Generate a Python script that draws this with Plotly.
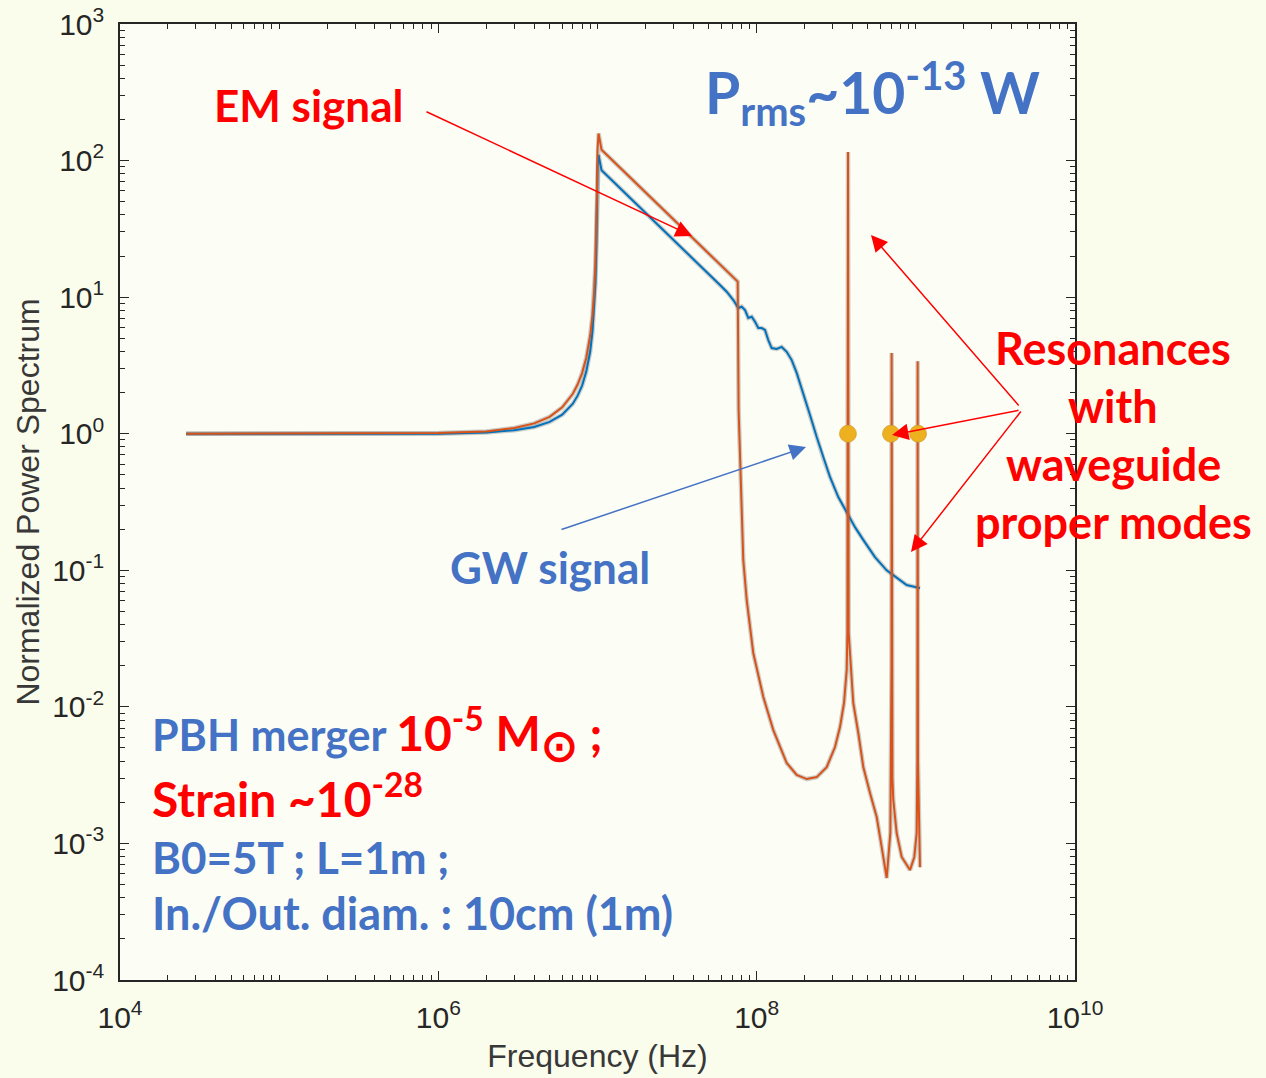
import plotly.graph_objects as go

# ---------------------------------------------------------------
# Normalized power spectra (frequency in Hz, power normalized to 1)
# ---------------------------------------------------------------
em_freq = [2.6e4, 1e5, 1e6, 2e6, 3e6, 4e6, 5e6, 6e6, 7e6, 7.5e6, 8e6, 8.5e6,
           9e6, 9.3e6, 9.5e6, 9.7e6, 9.85e6, 9.95e6, 1.0e7, 1.015e7, 1.06e7,
           7.60e7, 7.70e7, 7.93e7, 8.05e7, 8.24e7, 8.66e7, 9.52e7, 1.101e8,
           1.272e8, 1.544e8, 1.784e8, 2.062e8, 2.384e8, 2.754e8, 3.105e8,
           3.338e8, 3.538e8, 3.679e8, 3.715e8, 3.750e8, 3.784e8, 3.858e8,
           4.046e8, 4.350e8, 4.677e8, 5.152e8, 5.677e8, 6.102e8, 6.561e8,
           6.918e8, 7.031e8, 7.047e8, 7.063e8, 7.129e8, 7.217e8, 7.58e8,
           8.15e8, 9.19e8, 9.78e8, 1.0123e9, 1.022e9, 1.027e9, 1.0316e9,
           1.062e9]
em_power = [1.0, 1.0, 1.01, 1.04, 1.1, 1.19, 1.33, 1.56, 1.96, 2.29, 2.78, 3.6,
            5.26, 7.4, 10.3, 16.9, 33.8, 70.0, 120.0, 158.0, 120.0,
            13.0, 1.5, 0.407, 0.233, 0.119, 0.0605, 0.0248, 0.0118,
            0.00676, 0.00388, 0.00317, 0.00296, 0.00306, 0.00362, 0.00508,
            0.00711, 0.01067, 0.0186, 0.035, 115.6, 0.035, 0.0248,
            0.01067, 0.00644, 0.00363, 0.00234, 0.00156, 0.000941, 0.000558,
            0.0012, 0.02, 3.9, 0.02, 0.003, 0.00208, 0.00119,
            0.000796, 0.000638, 0.000796, 0.00119, 0.004, 3.4, 0.004,
            0.00067]

gw_freq = [2.6e4, 1e5, 1e6, 2e6, 3e6, 4e6, 5e6, 6e6, 7e6, 7.5e6, 8e6, 8.5e6,
           9e6, 9.3e6, 9.5e6, 9.7e6, 9.85e6, 9.95e6, 1.0e7, 1.015e7, 1.06e7,
           5.885e7, 6.48e7, 7.135e7, 7.665e7, 8.05e7, 8.45e7, 8.86e7, 9.31e7,
           9.76e7, 1.024e8, 1.075e8, 1.128e8, 1.183e8, 1.243e8, 1.336e8,
           1.436e8, 1.544e8, 1.660e8, 1.784e8, 1.963e8, 2.163e8, 2.384e8,
           2.621e8, 2.888e8, 3.257e8, 3.677e8, 4.147e8, 4.675e8, 5.538e8,
           6.559e8, 7.58e8, 8.76e8, 1.062e9]
gw_power = [1.0, 1.0, 1.0, 1.02, 1.06, 1.12, 1.22, 1.38, 1.66, 1.9, 2.25, 2.85,
            4.0, 5.6, 7.8, 12.5, 25.0, 55.0, 90.0, 110.0, 85.0,
            12.27, 10.96, 9.53, 8.33, 8.51, 8.05, 7.04, 7.19,
            6.61, 5.94, 5.94, 5.75, 4.85, 4.24, 4.17,
            4.32, 3.98, 3.46, 2.79, 1.99, 1.37, 0.946,
            0.664, 0.482, 0.344, 0.263, 0.207, 0.167, 0.125,
            0.100, 0.0878, 0.078, 0.074]

# waveguide proper-mode frequencies, marked at unit power
mode_freq = [3.745e8, 6.98e8, 1.033e9]
mode_power = [1.0, 1.0, 1.0]

x_major = [1e4, 1e6, 1e8, 1e10]
x_major_text = ["10<sup>4</sup>", "10<sup>6</sup>", "10<sup>8</sup>", "10<sup>10</sup>"]
y_major = [1e-4, 1e-3, 1e-2, 1e-1, 1e0, 1e1, 1e2, 1e3]
y_major_text = ["10<sup>-4</sup>", "10<sup>-3</sup>", "10<sup>-2</sup>", "10<sup>-1</sup>",
                "10<sup>0</sup>", "10<sup>1</sup>", "10<sup>2</sup>", "10<sup>3</sup>"]

x_minor = [k * 10 ** n for n in range(4, 10) for k in range(1, 10)
           if not (k == 1 and n % 2 == 0)]
y_minor = [k * 10.0 ** n for n in range(-4, 3) for k in range(2, 10)]

ORANGE = "#D95319"
BLUE = "#0072BD"
YELLOW = "#EDB120"
TXT_RED = "#FF0000"
TXT_BLUE = "#4472C4"
AX = "#262626"
HALO = "rgba(110,110,110,0.33)"

fig = go.Figure()

# soft grey halo under both curves
for fx, fy in ((gw_freq, gw_power), (em_freq, em_power)):
    fig.add_trace(go.Scatter(x=fx, y=fy, mode="lines",
                             line=dict(color=HALO, width=4.5),
                             hoverinfo="skip", showlegend=False))

fig.add_trace(go.Scatter(x=gw_freq, y=gw_power, mode="lines", name="GW signal",
                         line=dict(color=BLUE, width=2), showlegend=False))
fig.add_trace(go.Scatter(x=em_freq, y=em_power, mode="lines", name="EM signal",
                         line=dict(color=ORANGE, width=2), showlegend=False))
fig.add_trace(go.Scatter(x=mode_freq, y=mode_power, mode="markers",
                         marker=dict(color=YELLOW, size=17,
                                     line=dict(color="rgba(200,150,40,0.6)", width=1)),
                         showlegend=False))

L, R, T, B = 120, 1075, 24, 980
W, H = 1266, 1078


def px(xp):
    return (xp - L) / (R - L)


def py(yp):
    return (B - yp) / (B - T)


TXT_FONT = "Lato"
annotations = []


def label(text, x, y, size, color, xanchor="center"):
    annotations.append(dict(text=text, x=px(x), y=py(y), xref="paper", yref="paper",
                            showarrow=False, xanchor=xanchor, yanchor="middle",
                            font=dict(family=TXT_FONT, size=size, color=color,
                                      weight="bold")))


def arrow(tail, tip, color):
    annotations.append(dict(text="", x=px(tip[0]), y=py(tip[1]), xref="paper",
                            yref="paper", axref="pixel", ayref="pixel",
                            ax=tail[0] - tip[0], ay=tail[1] - tip[1],
                            showarrow=True, arrowhead=2, arrowsize=2.2,
                            arrowwidth=1.5, arrowcolor=color, standoff=0))


label("EM signal", 308, 105, 44, TXT_RED)
arrow((425, 111), (692, 236), TXT_RED)

label("GW signal", 550, 567, 44, TXT_BLUE)
arrow((560, 530), (806, 447), TXT_BLUE)

label("P<sub>rms</sub>~10<sup>-13</sup> W", 703, 92, 57, TXT_BLUE, xanchor="left")

for i, line in enumerate(["Resonances", "with", "waveguide", "proper modes"]):
    label(line, 1113, 348 + 58 * i, 45, TXT_RED)
arrow((1020, 407), (871, 235), TXT_RED)
arrow((1020, 410), (892, 435), TXT_RED)
arrow((1022, 410), (911, 552), TXT_RED)

label("<span style='color:%s'>PBH merger </span>"
      "<span style='color:%s;font-size:48px'>10<sup>-5</sup> M"
      "<sub><span style='font-size:44px'>⊙</span></sub> ;</span>"
      % (TXT_BLUE, TXT_RED), 150, 734, 43, TXT_BLUE, xanchor="left")
label("Strain ~10<sup>-28</sup>", 150, 795, 48, TXT_RED, xanchor="left")
label("B0=5T ; L=1m ;", 150, 857, 44, TXT_BLUE, xanchor="left")
label("In./Out. diam. : 10cm (1m)", 150, 913, 45, TXT_BLUE, xanchor="left")

axis_common = dict(
    type="log", showgrid=False, zeroline=False,
    showline=True, linecolor=AX, linewidth=1.5, mirror="ticks",
    ticks="inside", ticklen=9, tickwidth=1.3, tickcolor=AX,
    tickfont=dict(family="Liberation Sans", size=30, color=AX),
)

fig.update_layout(
    width=W, height=H,
    margin=dict(l=L, r=W - R, t=T, b=H - B, autoexpand=False),
    paper_bgcolor="#FBFDEC",
    plot_bgcolor="#FCFDF5",
    xaxis=dict(axis_common, range=[4, 10], tickmode="array", tickvals=x_major,
               ticktext=x_major_text, ticklabelstandoff=10,
               minor=dict(tickmode="array", tickvals=x_minor, ticks="inside",
                          ticklen=5, tickwidth=1.1, tickcolor=AX),
               title=dict(text="Frequency (Hz)", standoff=12,
                          font=dict(family="Liberation Sans", size=32, color="#383838"))),
    yaxis=dict(axis_common, range=[-4, 3], tickmode="array", tickvals=y_major,
               ticktext=y_major_text, ticklabelstandoff=8,
               minor=dict(tickmode="array", tickvals=y_minor, ticks="inside",
                          ticklen=5, tickwidth=1.1, tickcolor=AX),
               title=dict(text="Normalized Power Spectrum", standoff=3,
                          font=dict(family="Liberation Sans", size=32, color="#383838"))),
    annotations=annotations,
)

fig.write_html("out.html")
